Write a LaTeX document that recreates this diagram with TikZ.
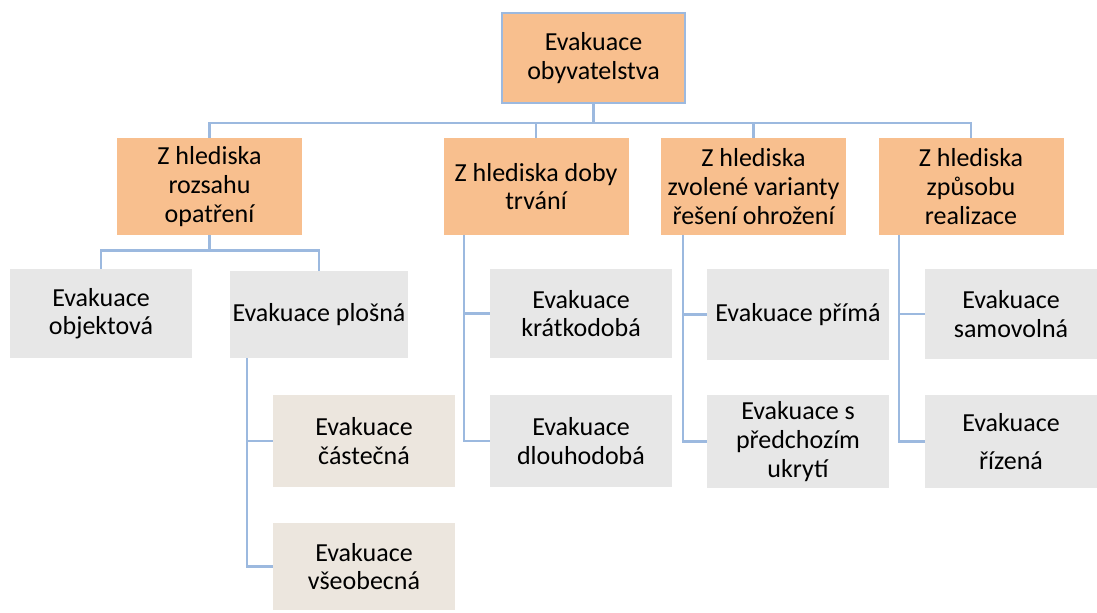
\documentclass[tikz,border=0pt]{standalone}
\usepackage{fontspec}
\setmainfont{Carlito}
\usetikzlibrary{positioning, calc}

\definecolor{orangefill}{HTML}{F8BF8E}
\definecolor{linkblue}{HTML}{9CB9DF}
\definecolor{leafgray}{HTML}{E7E7E7}
\definecolor{subbeige}{HTML}{ECE6DE}

\begin{document}
\begin{tikzpicture}[
    x=0.5pt,
    y=-0.5pt,
    % Estilos de las cajas y de los conectores
    top box/.style={draw=linkblue, line width=1.1pt, fill=orangefill, align=center,
        minimum width=91.5pt, minimum height=45pt, inner sep=1pt},
    crit box/.style={fill=orangefill, align=center,
        minimum width=92.5pt, minimum height=48.5pt, inner sep=1pt},
    leaf box/.style={fill=leafgray, align=center, inner sep=1pt},
    sub box/.style={fill=subbeige, align=center, inner sep=1pt},
    link/.style={draw=linkblue, line width=1.1pt}
]
    \useasboundingbox (0,0) rectangle (1097,612);
    \fontsize{13}{14.3}\selectfont

    % --- 1. RAÍZ ---
    \node[top box] (root) at (593.5,58) {Evakuace\\obyvatelstva};

    % --- 2. CRITERIOS ---
    \node[crit box] (rozsah) at (209.5,186.5) {Z hlediska\\rozsahu\\opatření};
    \node[crit box] (doba)   at (536,186.5)   {Z hlediska doby\\trvání};
    \node[crit box] (varianta) at (753.5,186.5) {Z hlediska\\zvolené varianty\\řešení ohrožení};
    \node[crit box] (zpusob) at (971,186.5)   {Z hlediska\\způsobu\\realizace};

    % --- 3. HOJAS ---
    \node[leaf box, minimum width=91pt, minimum height=44.5pt] (objektova) at (101,313.5) {Evakuace\\objektová};
    \node[leaf box, minimum width=89pt, minimum height=43.5pt] (plosna) at (319,314.5) {Evakuace plošná};
    \node[sub box, minimum width=91pt, minimum height=46pt] (castecna) at (364,441) {Evakuace\\částečná};
    \node[sub box, minimum width=91pt, minimum height=43.5pt] (vseobecna) at (364,566.5) {Evakuace\\všeobecná};

    \node[leaf box, minimum width=91pt, minimum height=44.5pt] (kratkodoba) at (581,313.5) {Evakuace\\krátkodobá};
    \node[leaf box, minimum width=91pt, minimum height=46pt] (dlouhodoba) at (581,441) {Evakuace\\dlouhodobá};

    \node[leaf box, minimum width=91pt, minimum height=45.5pt] (prima) at (798,314.5) {Evakuace přímá};
    \node[leaf box, minimum width=91pt, minimum height=46.5pt] (ukryti) at (798,441.5) {Evakuace s\\předchozím\\ukrytí};

    \node[leaf box, minimum width=86pt, minimum height=45pt] (samovolna) at (1011,314) {Evakuace\\samovolná};
    \node[leaf box, minimum width=86pt, minimum height=46.5pt] (rizena) at (1011,441.5) {Evakuace\\[5pt]řízená};

    % --- 4. CONECTORES ---
    \coordinate (bus) at ($(root.south)+(0,19)$);
    \draw[link] (root.south) -- (bus);
    \draw[link] (bus) -| (rozsah.north);
    \draw[link] (bus) -| (doba.north);
    \draw[link] (bus) -| (varianta.north);
    \draw[link] (bus) -| (zpusob.north);

    \coordinate (busA) at ($(rozsah.south)+(0,15)$);
    \draw[link] (rozsah.south) -- (busA);
    \draw[link] (busA) -| (objektova.north);
    \draw[link] (busA) -| (plosna.north);

    \coordinate (trunkA) at ($(plosna.south west)+(17,0)$);
    \draw[link] (trunkA) |- (castecna.west);
    \draw[link] (trunkA) |- (vseobecna.west);

    \coordinate (trunkB) at ($(doba.south west)+(21,0)$);
    \draw[link] (trunkB) |- (kratkodoba.west);
    \draw[link] (trunkB) |- (dlouhodoba.west);

    \coordinate (trunkC) at ($(varianta.south west)+(22,0)$);
    \draw[link] (trunkC) |- (prima.west);
    \draw[link] (trunkC) |- (ukryti.west);

    \coordinate (trunkD) at ($(zpusob.south west)+(21,0)$);
    \draw[link] (trunkD) |- (samovolna.west);
    \draw[link] (trunkD) |- (rizena.west);

\end{tikzpicture}
\end{document}
